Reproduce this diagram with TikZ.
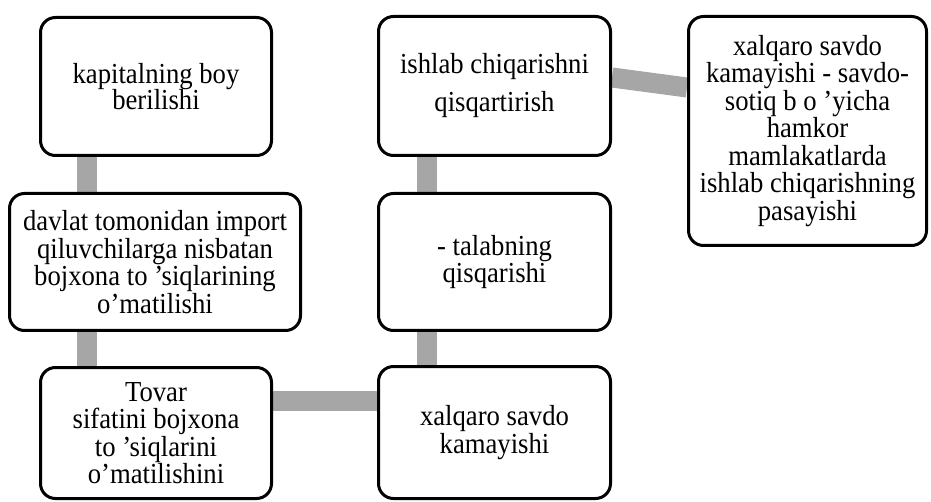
\documentclass[tikz,border=0pt]{standalone}
\usepackage{fontspec}
\setmainfont{Liberation Serif}[FakeStretch=0.92]
\usetikzlibrary{backgrounds}
\definecolor{conngray}{RGB}{166,166,166}
\tikzset{
  box/.style={draw=black, line width=3pt, rounded corners=15pt, fill=white,
    align=center, inner sep=1pt, font=\fontsize{29}{27.5}\selectfont},
  conn/.style={draw=conngray, line width=20pt, line cap=butt}
}
\begin{document}
\begin{tikzpicture}[x=1pt, y=-1pt]
\useasboundingbox (0,0) rectangle (931,502);
\node[box, minimum width=231pt, minimum height=138pt] (A) at (156,86.5) {kapitalning boy\\[-1pt]berilishi};
\node[box, minimum width=291pt, minimum height=137pt] (B) at (155,262) {davlat tomonidan import\\qiluvchilarga nisbatan\\bojxona to ’siqlarining\\o’matilishi};
\node[box, minimum width=231pt, minimum height=131pt] (C) at (156,433) {Tovar\\sifatini bojxona\\to ’siqlarini\\o’matilishini};
\node[box, minimum width=232pt, minimum height=139pt] (E) at (494.5,86) {ishlab chiqarishni\\[10.5pt]qisqartirish};
\node[box, minimum width=232pt, minimum height=137pt] (F) at (494.5,262) {- talabning\\qisqarishi};
\node[box, minimum width=232pt, minimum height=132pt] (D) at (494.5,432.5) {xalqaro savdo\\kamayishi};
\node[box, minimum width=238pt, minimum height=229pt] (G) at (807.5,131) {xalqaro savdo\\kamayishi - savdo-\\sotiq b o ’yicha\\hamkor\\mamlakatlarda\\ishlab chiqarishning\\pasayishi};
\begin{pgfonlayer}{background}
\draw[conn] ([xshift=48pt]A.south west) -- ([xshift=79pt]B.north west);
\draw[conn] ([xshift=79pt]B.south west) -- ([xshift=48pt]C.north west);
\draw[conn] ([yshift=-34.5pt]C.north east) -- ([yshift=-35.5pt]D.north west);
\draw[conn] ([xshift=49.5pt]D.north west) -- ([xshift=49.5pt]F.south west);
\draw[conn] ([xshift=49.5pt]F.north west) -- ([xshift=49.5pt]E.south west);
\draw[conn] ([yshift=-62.5pt]E.north east) -- ([yshift=-72.5pt]G.north west);
\end{pgfonlayer}
\end{tikzpicture}
\end{document}
